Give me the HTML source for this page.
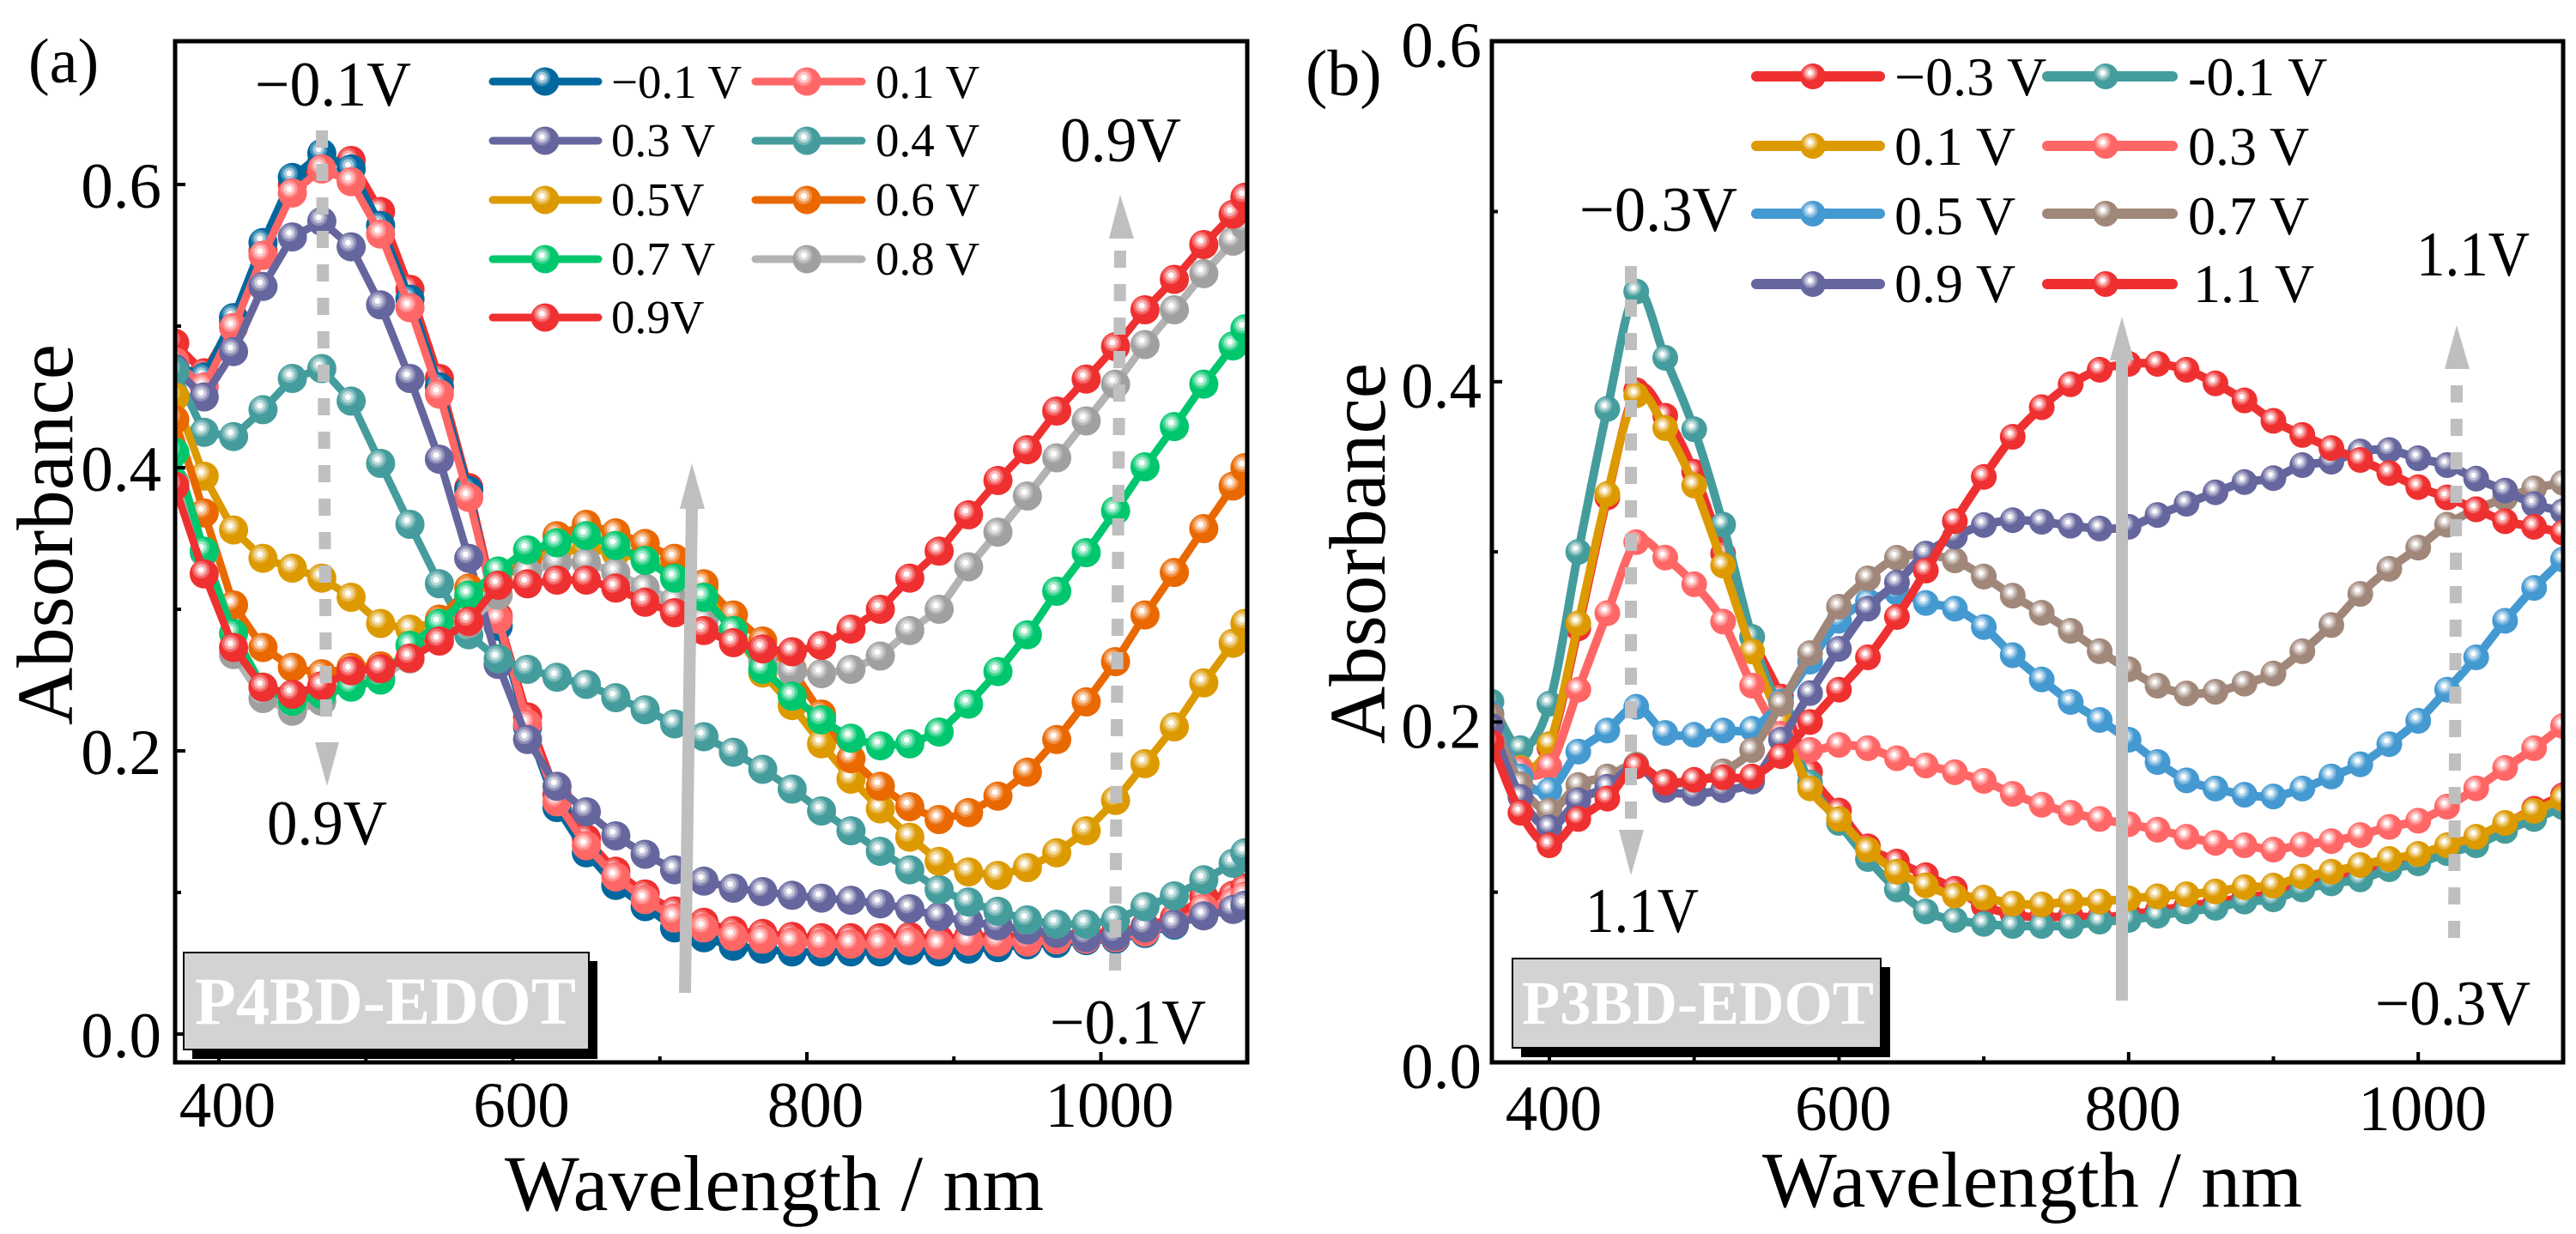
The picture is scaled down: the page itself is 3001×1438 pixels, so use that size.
<!DOCTYPE html>
<html lang="en">
<head>
<meta charset="utf-8">
<title>Absorbance spectra of P4BD-EDOT and P3BD-EDOT</title>
<style>
html,body{margin:0;padding:0;background:#fff;}
svg{display:block;}
text{font-family:"Liberation Serif",serif;fill:#000;}
</style>
</head>
<body>
<svg id="figure" xmlns="http://www.w3.org/2000/svg" width="3001" height="1438" viewBox="0 0 3001 1438">
  <rect x="0" y="0" width="3001" height="1438" fill="#fff"/>
  <defs id="defs">
    <clipPath id="clipA"><rect x="204" y="48" width="1249" height="1190"/></clipPath>
    <clipPath id="clipB"><rect x="1738" y="48" width="1248" height="1190"/></clipPath>
  </defs>

  <g id="panelA">
    <text x="33" y="96" font-size="74">(a)</text>
    <text transform="translate(84 623) rotate(-90)" text-anchor="middle" font-size="93" textLength="444" lengthAdjust="spacingAndGlyphs">Absorbance</text>
    <text x="588" y="1410" font-size="92" textLength="628" lengthAdjust="spacing">Wavelength / nm</text>
    <g id="seriesA" clip-path="url(#clipA)"></g>
    <g id="axesA"></g>
    <g id="legendA"></g>

    <line x1="375" y1="152" x2="380" y2="836" stroke="#bfbfbf" stroke-width="14" stroke-dasharray="20 19"/>
    <polygon points="367,865 395,865 381,916" fill="#bfbfbf"/>
    <line x1="798" y1="1157" x2="806" y2="592" stroke="#bfbfbf" stroke-width="14"/>
    <polygon points="792,593 821,593 806,540" fill="#bfbfbf"/>
    <line x1="1305" y1="292" x2="1299" y2="1134" stroke="#bfbfbf" stroke-width="14" stroke-dasharray="20 19"/>
    <polygon points="1292,278 1321,278 1305,227" fill="#bfbfbf"/>

    <text x="297" y="123" font-size="74" textLength="182" lengthAdjust="spacingAndGlyphs">−0.1V</text>
    <text x="1235" y="188" font-size="74" textLength="141" lengthAdjust="spacingAndGlyphs">0.9V</text>
    <text x="311" y="984" font-size="74" textLength="140" lengthAdjust="spacingAndGlyphs">0.9V</text>
    <text x="1223" y="1216" font-size="74" textLength="182" lengthAdjust="spacingAndGlyphs">−0.1V</text>

    <rect x="224" y="1120" width="472" height="114" fill="#000"/>
    <rect x="214" y="1110" width="472" height="113" fill="#d3d3d3" stroke="#000" stroke-width="2"/>
    <text x="227" y="1193" font-size="78" font-weight="bold" style="fill:#fff" textLength="444" lengthAdjust="spacingAndGlyphs">P4BD-EDOT</text>
  </g>

  <g id="panelB">
    <text x="1521" y="111" font-size="76">(b)</text>
    <text transform="translate(1613 645) rotate(-90)" text-anchor="middle" font-size="93" textLength="444" lengthAdjust="spacingAndGlyphs">Absorbance</text>
    <text x="2053" y="1406" font-size="92" textLength="629" lengthAdjust="spacing">Wavelength / nm</text>
    <g id="seriesB" clip-path="url(#clipB)"></g>
    <g id="axesB"></g>
    <g id="legendB"></g>

    <line x1="1900" y1="310" x2="1900" y2="958" stroke="#bfbfbf" stroke-width="14" stroke-dasharray="20 19"/>
    <polygon points="1886,967 1915,967 1900,1020" fill="#bfbfbf"/>
    <line x1="2472" y1="1166" x2="2472" y2="419" stroke="#bfbfbf" stroke-width="14"/>
    <polygon points="2458,420 2486,420 2472,369" fill="#bfbfbf"/>
    <line x1="2862" y1="449" x2="2859" y2="1098" stroke="#bfbfbf" stroke-width="14" stroke-dasharray="20 19"/>
    <polygon points="2848,430 2877,430 2862,379" fill="#bfbfbf"/>

    <text x="1840" y="269" font-size="74" textLength="184" lengthAdjust="spacingAndGlyphs">−0.3V</text>
    <text x="2815" y="321" font-size="74" textLength="132" lengthAdjust="spacingAndGlyphs">1.1V</text>
    <text x="1847" y="1086" font-size="74" textLength="132" lengthAdjust="spacingAndGlyphs">1.1V</text>
    <text x="2767" y="1194" font-size="74" textLength="181" lengthAdjust="spacingAndGlyphs">−0.3V</text>

    <rect x="1772" y="1127" width="430" height="105" fill="#000"/>
    <rect x="1762" y="1117" width="429" height="104" fill="#d3d3d3" stroke="#000" stroke-width="2"/>
    <text x="1773" y="1193" font-size="72" font-weight="bold" style="fill:#fff" textLength="410" lengthAdjust="spacingAndGlyphs">P3BD-EDOT</text>
  </g>
</svg>

<script>
// ---------- Panel (a) data ----------
const wavelengthsA = [370,390,410,430,450,470,490,510,530,550,570,590,610,630,650,670,690,710,730,750,770,790,810,830,850,870,890,910,930,950,970,990,1010,1030,1050,1070,1090,1098];
const a_m01 = [.473,.464,.506,.559,.605,.622,.611,.571,.519,.457,.384,.288,.217,.160,.128,.105,.090,.075,.068,.062,.060,.058,.058,.058,.058,.059,.058,.060,.061,.063,.064,.066,.067,.071,.077,.087,.091,.095];
const a_00 = [.488,.467,.503,.553,.600,.616,.617,.581,.526,.463,.386,.295,.224,.169,.138,.115,.099,.087,.079,.073,.071,.069,.068,.068,.068,.069,.067,.069,.069,.069,.070,.071,.072,.076,.082,.097,.098,.103];
const a_01 = [.475,.457,.499,.550,.594,.611,.602,.565,.513,.452,.379,.293,.219,.164,.133,.111,.095,.082,.075,.069,.067,.065,.064,.0635,.0635,.065,.063,.0655,.065,.065,.0665,.067,.068,.072,.078,.089,.093,.0975];
const a_03 = [.47,.45,.482,.528,.563,.574,.556,.515,.463,.406,.336,.261,.208,.175,.157,.14,.127,.116,.108,.103,.1006,.098,.096,.0945,.092,.0885,.083,.0795,.0765,.0735,.071,.068,.069,.075,.0776,.0835,.088,.091];
const a_04 = [.468,.425,.422,.441,.463,.47,.447,.403,.36,.318,.282,.265,.2576,.252,.247,.2376,.229,.219,.21,.199,.187,.173,.1576,.1436,.129,.116,.102,.0933,.0867,.0806,.0776,.0776,.0806,.09,.0976,.109,.1206,.128];
const a_05 = [.45,.394,.356,.336,.329,.322,.3085,.29,.286,.292,.31,.32,.335,.34,.343,.34,.335,.325,.315,.285,.255,.232,.205,.18,.159,.139,.122,.1145,.112,.1176,.128,.1436,.165,.191,.217,.248,.276,.29];
const a_06 = [.434,.368,.303,.273,.259,.2545,.259,.26,.265,.293,.315,.32,.335,.352,.36,.354,.3465,.336,.318,.296,.2776,.2576,.226,.1945,.175,.1606,.1515,.1564,.168,.185,.208,.2346,.263,.296,.326,.357,.387,.4];
const a_08 = [.39,.34,.268,.237,.228,.235,.25,.252,.265,.28,.29,.31,.326,.333,.333,.326,.315,.306,.292,.279,.2636,.2563,.2545,.2576,.267,.285,.3,.33,.3545,.38,.407,.433,.459,.487,.5115,.537,.56,.571];
const a_07 = [.411,.341,.283,.245,.235,.24,.245,.25,.2745,.29,.31,.327,.342,.347,.352,.345,.3345,.322,.3085,.285,.2576,.2386,.222,.209,.2036,.205,.2133,.233,.256,.282,.3127,.34,.3696,.4006,.429,.459,.486,.498];
const a_09 = [.387,.325,.273,.245,.24,.246,.2565,.258,.2655,.2776,.2915,.317,.318,.3206,.3206,.315,.305,.2976,.285,.2764,.272,.27,.2745,.286,.3,.322,.341,.3667,.391,.4127,.44,.4626,.4855,.5115,.533,.5576,.579,.591];

const xTicksA = [400,600,800,1000];
const xMinorA = [500,700,900];
const yTicksA = [0,0.2,0.4,0.6];
const yMinorA = [0.1,0.3,0.5];

// ---------- Panel (b) data ----------
const wavelengthsB = [360,380,400,420,440,460,480,500,520,540,560,580,600,620,640,660,680,700,720,740,760,780,800,820,840,860,880,900,920,940,960,980,1000,1020,1040,1060,1080,1100];
const b_m03 = [.2,.172,.185,.255,.332,.395,.38,.347,.299,.25,.215,.1705,.148,.127,.118,.11,.102,.092,.087,.085,.086,.085,.087,.089,.092,.094,.097,.099,.104,.108,.112,.117,.12,.125,.13,.14,.149,.157];
const b_m01 = [.212,.1846,.2108,.30,.384,.453,.414,.372,.316,.25,.205,.1644,.1407,.1195,.1016,.0887,.0837,.0814,.0802,.0802,.0802,.0827,.0837,.0862,.0887,.0908,.0945,.0958,.1016,.1052,.1075,.1135,.117,.123,.1276,.136,.143,.15];
const b_01 = [.2,.173,.187,.258,.334,.392,.3727,.339,.292,.2415,.2,.161,.143,.125,.112,.104,.098,.0968,.0933,.0928,.0945,.0945,.0963,.0976,.0988,.1004,.1029,.1039,.1092,.112,.116,.1195,.1225,.1276,.1326,.1407,.1478,.155];
const b_03 = [.2,.172,.174,.219,.264,.3057,.2966,.281,.259,.2214,.193,.1836,.1866,.1846,.1787,.1745,.1705,.1654,.1578,.1514,.1467,.143,.14,.1367,.1326,.129,.1276,.125,.128,.13,.1336,.1384,.142,.1503,.161,.173,.1846,.1977];
const b_05 = [.205,.168,.16,.1826,.195,.209,.1936,.1925,.195,.196,.212,.2355,.2595,.271,.276,.27,.2666,.2558,.2393,.225,.2118,.2012,.1896,.1765,.1657,.1609,.1573,.1563,.1609,.168,.1752,.187,.2007,.219,.238,.2595,.2788,.2955];
const b_07 = [.2037,.1634,.148,.163,.168,.175,.165,.165,.171,.1835,.2108,.2405,.2678,.2844,.2965,.298,.295,.2855,.2743,.2642,.2536,.2416,.231,.2214,.2168,.2178,.2226,.2285,.2416,.257,.2753,.29,.3025,.316,.325,.3315,.3373,.3406];
const b_09 = [.1977,.156,.138,.154,.162,.174,.16,.158,.16,.165,.1896,.217,.243,.2666,.282,.299,.309,.3158,.3186,.3177,.3154,.3137,.3147,.3217,.3283,.335,.341,.3433,.351,.353,.359,.3598,.355,.351,.343,.336,.328,.3238];
const b_11 = [.188,.1467,.1276,.143,.155,.174,.1644,.166,.1675,.168,.18,.2,.219,.238,.2617,.289,.318,.344,.3676,.385,.3985,.407,.4105,.4105,.407,.399,.389,.377,.3687,.361,.354,.3463,.338,.332,.325,.318,.3147,.3113];

const xTicksB = [400,600,800,1000];
const xMinorB = [500,700,900];
const yTicksB = [0,0.2,0.4,0.6];
const yMinorB = [0.1,0.3,0.5];

// Colours by name
const COL = {blue:'#00689e',pink:'#ff6666',purple:'#66669e',teal:'#459c9c',gold:'#dc9a00',orange:'#ea6800',green:'#00c76e',grey:'#a0a0a0',red:'#ef3030',brown:'#a0877a',sky:'#4499d1'};
const LINECOL = {grey:'#b3b3b3'};

// Axis functions
function xA(w){return 255+(w-400)*1.7125;}
function yA(v){return 1205-v*1650;}
function xB(w){return 1805+(w-400)*1.687;}
function yB(v){return 1238-v*1983;}

const NS='http://www.w3.org/2000/svg';
function mk(tag,attrs,parent){
  const e=document.createElementNS(NS,tag);
  for(const k in attrs){e.setAttribute(k,attrs[k]);}
  if(parent){parent.appendChild(e);}
  return e;
}
function mix(hex,t){
  const n=parseInt(hex.slice(1),16);
  const c=[n>>16&255,n>>8&255,n&255].map(function(v){return Math.round(v+(255-v)*t);});
  return 'rgb('+c.join(',')+')';
}

// Sphere-like marker gradients
const defs=document.getElementById('defs');
Object.keys(COL).forEach(function(name){
  const g=mk('radialGradient',{id:'ball-'+name,cx:'0.39',cy:'0.36',r:'0.31',fx:'0.39',fy:'0.36'},defs);
  const c=COL[name];
  mk('stop',{offset:'0',    'stop-color':'#fff'},g);
  mk('stop',{offset:'0.27', 'stop-color':'#fff'},g);
  mk('stop',{offset:'0.36', 'stop-color':mix(c,0.66)},g);
  mk('stop',{offset:'0.6',  'stop-color':mix(c,0.6)},g);
  mk('stop',{offset:'0.7',  'stop-color':mix(c,0.3)},g);
  mk('stop',{offset:'0.92', 'stop-color':mix(c,0.24)},g);
  mk('stop',{offset:'1',    'stop-color':c},g);
});

function straightPath(pts){
  return pts.map(function(p,i){return (i?'L':'M')+p[0].toFixed(1)+' '+p[1].toFixed(1);}).join(' ');
}
function smoothPath(pts){
  let d='M'+pts[0][0].toFixed(1)+' '+pts[0][1].toFixed(1);
  for(let i=0;i<pts.length-1;i++){
    const p0=pts[i-1]||pts[i],p1=pts[i],p2=pts[i+1],p3=pts[i+2]||p2;
    const c1x=p1[0]+(p2[0]-p0[0])/6,c1y=p1[1]+(p2[1]-p0[1])/6;
    const c2x=p2[0]-(p3[0]-p1[0])/6,c2y=p2[1]-(p3[1]-p1[1])/6;
    d+=' C'+c1x.toFixed(1)+' '+c1y.toFixed(1)+' '+c2x.toFixed(1)+' '+c2y.toFixed(1)+' '+p2[0].toFixed(1)+' '+p2[1].toFixed(1);
  }
  return d;
}

function drawSeries(parent,slug,colour,wls,vals,sx,sy,r,lw,pathFn){
  const pts=wls.map(function(w,i){return [sx(w),sy(vals[i])];});
  const g=mk('g',{},parent);
  
  
  const line=mk('path',{d:pathFn(pts),fill:'none',stroke:LINECOL[colour]||COL[colour],'stroke-width':lw,'stroke-linejoin':'round'},g);
  
  
  pts.forEach(function(p){
    const c=mk('circle',{cx:p[0].toFixed(1),cy:p[1].toFixed(1),r:r,fill:'url(#ball-'+colour+')'},g);
    
    
  });
}

function drawAxes(parent,slug,box,sx,sy,xT,xM,yT,yM,xDx,xBase,yRight,yBase){
  const frame=mk('rect',{x:box[0],y:box[1],width:box[2]-box[0],height:box[3]-box[1],fill:'none',stroke:'#000','stroke-width':5},parent);
  
  
  xT.forEach(function(w){
    const t=mk('line',{x1:sx(w),x2:sx(w),y1:box[3],y2:box[3]-12,stroke:'#000','stroke-width':4},parent);
    
    
    const l=mk('text',{x:sx(w)+xDx,y:xBase,'text-anchor':'middle','font-size':75},parent);
    l.textContent=String(w);
    
    
  });
  xM.forEach(function(w){
    const t=mk('line',{x1:sx(w),x2:sx(w),y1:box[3],y2:box[3]-7,stroke:'#000','stroke-width':4},parent);
    
    
  });
  yT.forEach(function(v){
    const t=mk('line',{x1:box[0],x2:box[0]+12,y1:sy(v),y2:sy(v),stroke:'#000','stroke-width':4},parent);
    
    
    const l=mk('text',{x:yRight,y:sy(v)+yBase,'text-anchor':'end','font-size':75},parent);
    l.textContent=v.toFixed(1);
    
    
  });
  yM.forEach(function(v){
    const t=mk('line',{x1:box[0],x2:box[0]+7,y1:sy(v),y2:sy(v),stroke:'#000','stroke-width':4},parent);
    
    
  });
}

function legendEntry(parent,label,colour,x1,x2,mx,tx,y,base,r,lw,fs){
  const g=mk('g',{},parent);
  
  
  const ln=mk('line',{x1:x1,x2:x2,y1:y,y2:y,stroke:LINECOL[colour]||COL[colour],'stroke-width':lw,'stroke-linecap':'round'},g);
  
  
  const c=mk('circle',{cx:mx,cy:y,r:r,fill:'url(#ball-'+colour+')'},g);
  
  
  const t=mk('text',{x:tx,y:base,'font-size':fs},g);
  t.textContent=label;
  
  
}

// ---------- Draw panel (a) ----------
const seriesA=document.getElementById('seriesA');
drawSeries(seriesA,'a-0-0v','red',wavelengthsA,a_00,xA,yA,17,9,straightPath);
drawSeries(seriesA,'a-minus-0-1v','blue',wavelengthsA,a_m01,xA,yA,17,9,straightPath);
drawSeries(seriesA,'a-0-1v','pink',wavelengthsA,a_01,xA,yA,17,9,straightPath);
drawSeries(seriesA,'a-0-3v','purple',wavelengthsA,a_03,xA,yA,17,9,straightPath);
drawSeries(seriesA,'a-0-4v','teal',wavelengthsA,a_04,xA,yA,17,9,straightPath);
drawSeries(seriesA,'a-0-5v','gold',wavelengthsA,a_05,xA,yA,17,9,straightPath);
drawSeries(seriesA,'a-0-6v','orange',wavelengthsA,a_06,xA,yA,17,9,straightPath);
drawSeries(seriesA,'a-0-8v','grey',wavelengthsA,a_08,xA,yA,17,9,straightPath);
drawSeries(seriesA,'a-0-7v','green',wavelengthsA,a_07,xA,yA,17,9,straightPath);
drawSeries(seriesA,'a-0-9v','red',wavelengthsA,a_09,xA,yA,17,9,straightPath);
drawAxes(document.getElementById('axesA'),'panel-a',[204,48,1453,1238],xA,yA,xTicksA,xMinorA,yTicksA,yMinorA,10,1313,188,27);

const legendA=document.getElementById('legendA');
legendEntry(legendA,'−0.1 V','blue',574,697,635,712,95,114,16.5,9,55);
legendEntry(legendA,'0.3 V','purple',574,697,635,712,164,182,16.5,9,55);
legendEntry(legendA,'0.5V','gold',574,697,635,712,233,251,16.5,9,55);
legendEntry(legendA,'0.7 V','green',574,697,635,712,302,320,16.5,9,55);
legendEntry(legendA,'0.9V','red',574,697,635,712,370,388,16.5,9,55);
legendEntry(legendA,'0.1 V','pink',880,1004,940,1020,95,114,16.5,9,55);
legendEntry(legendA,'0.4 V','teal',880,1004,940,1020,164,182,16.5,9,55);
legendEntry(legendA,'0.6 V','orange',880,1004,940,1020,233,251,16.5,9,55);
legendEntry(legendA,'0.8 V','grey',880,1004,940,1020,302,320,16.5,9,55);

// ---------- Draw panel (b) ----------
const seriesB=document.getElementById('seriesB');
drawSeries(seriesB,'b-minus-0-3v','red',wavelengthsB,b_m03,xB,yB,15,10,smoothPath);
drawSeries(seriesB,'b-minus-0-1v','teal',wavelengthsB,b_m01,xB,yB,15,10,smoothPath);
drawSeries(seriesB,'b-0-1v','gold',wavelengthsB,b_01,xB,yB,15,10,smoothPath);
drawSeries(seriesB,'b-0-3v','pink',wavelengthsB,b_03,xB,yB,15,10,smoothPath);
drawSeries(seriesB,'b-0-5v','sky',wavelengthsB,b_05,xB,yB,15,10,smoothPath);
drawSeries(seriesB,'b-0-7v','brown',wavelengthsB,b_07,xB,yB,15,10,smoothPath);
drawSeries(seriesB,'b-0-9v','purple',wavelengthsB,b_09,xB,yB,15,10,smoothPath);
drawSeries(seriesB,'b-1-1v','red',wavelengthsB,b_11,xB,yB,15,10,smoothPath);
drawAxes(document.getElementById('axesB'),'panel-b',[1738,48,2986,1238],xB,yB,xTicksB,xMinorB,yTicksB,yMinorB,5,1317,1726,30);

const legendB=document.getElementById('legendB');
legendEntry(legendB,'−0.3 V','red',2046,2190,2112,2207,89,111,15,12,64);
legendEntry(legendB,'0.1 V','gold',2046,2190,2112,2207,170,192,15,12,64);
legendEntry(legendB,'0.5 V','sky',2046,2190,2112,2207,249,273,15,12,64);
legendEntry(legendB,'0.9 V','purple',2046,2190,2112,2207,331,352,15,12,64);
legendEntry(legendB,'-0.1 V','teal',2385,2531,2453,2549,89,111,15,12,64);
legendEntry(legendB,'0.3 V','pink',2385,2531,2453,2549,170,192,15,12,64);
legendEntry(legendB,'0.7 V','brown',2385,2531,2453,2549,249,273,15,12,64);
legendEntry(legendB,'1.1 V','red',2385,2531,2453,2555,331,352,15,12,64);
</script>
</body>
</html>
